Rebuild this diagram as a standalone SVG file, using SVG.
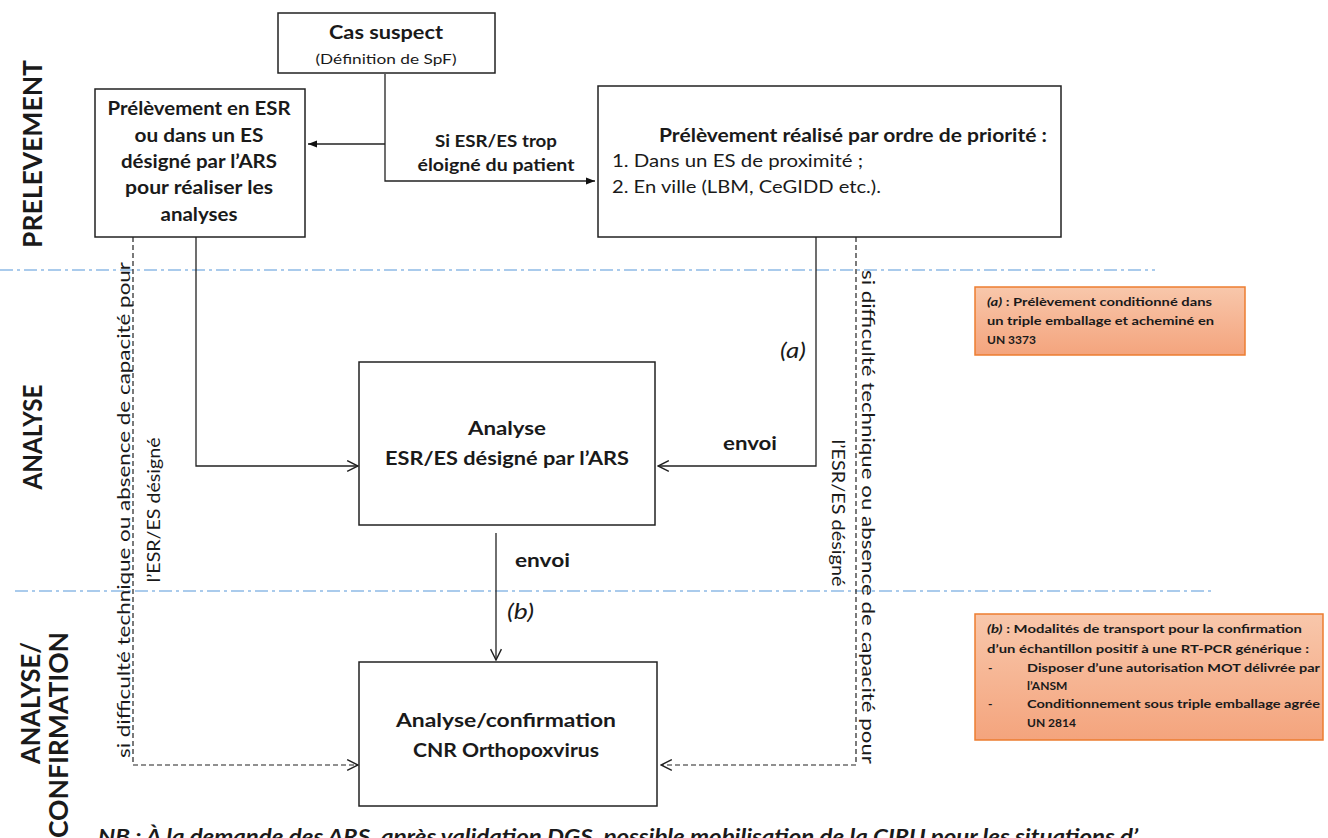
<svg xmlns="http://www.w3.org/2000/svg" width="1328" height="838" viewBox="0 0 1328 838">
<style>
text{font-family:Lato,"Liberation Sans",Arial,sans-serif;fill:#1a1a1a}
.b{font-weight:bold}
.i{font-style:italic}
.box{fill:#fff;stroke:#222;stroke-width:1.5}
.note{fill:url(#og);stroke:#ed7d31;stroke-width:1.5}
.sep{fill:none;stroke:#8fbbe6;stroke-width:1.6;stroke-dasharray:13 4 3 4}
.c{fill:none;stroke:#222;stroke-width:1.3}
.d{fill:none;stroke:#222;stroke-width:1.2;stroke-dasharray:5 3}
.lab{font-size:26px;font-weight:bold}
.m{font-size:19px;font-weight:bold;text-anchor:middle}
.vt{font-size:18px;text-anchor:middle}
.nt{font-size:12px;font-weight:bold}
</style>
<defs>
<linearGradient id="og" x1="0" y1="0" x2="0" y2="1">
<stop offset="0" stop-color="#f8c7ab"/>
<stop offset="1" stop-color="#f4a47d"/>
</linearGradient>
<marker id="af" viewBox="0 0 10 10" refX="10" refY="5" markerWidth="9" markerHeight="9" markerUnits="userSpaceOnUse" orient="auto">
<path d="M0,1 L10,5 L0,9 z" fill="#111"/>
</marker>
<marker id="ao" viewBox="0 0 12 12" refX="11" refY="6" markerWidth="13" markerHeight="13" markerUnits="userSpaceOnUse" orient="auto">
<path d="M1,1 L11,6 L1,11" fill="none" stroke="#222" stroke-width="1.3"/>
</marker>
</defs>
<rect width="1328" height="838" fill="#fff"/>

<g id="separators">
<line class="sep" x1="0" y1="270" x2="1155" y2="270"/>
<line class="sep" x1="15" y1="591" x2="1215" y2="591"/>
</g>

<g id="phase-labels">
<text class="lab" transform="translate(42,154) rotate(-90)" text-anchor="middle" textLength="188" lengthAdjust="spacingAndGlyphs">PRELEVEMENT</text>
<text class="lab" transform="translate(42,437) rotate(-90)" text-anchor="middle" textLength="105" lengthAdjust="spacingAndGlyphs">ANALYSE</text>
<text class="lab" transform="translate(40,703) rotate(-90)" text-anchor="middle" textLength="122" lengthAdjust="spacingAndGlyphs">ANALYSE/</text>
<text class="lab" transform="translate(68,632) rotate(-90)" text-anchor="end" textLength="206" lengthAdjust="spacingAndGlyphs">CONFIRMATION</text>
</g>

<g id="connectors">
<path class="c" d="M385,74 V181 H595" marker-end="url(#af)"/>
<path class="c" d="M385,144 H308" marker-end="url(#af)"/>
<path class="c" d="M196,237 V466 H358" marker-end="url(#ao)"/>
<path class="c" d="M816,237 V466 H658" marker-end="url(#ao)"/>
<path class="d" d="M133,237 V765 H358" marker-end="url(#ao)"/>
<path class="d" d="M856,237 V765 H661" marker-end="url(#ao)"/>
<path class="c" d="M496,533 V660" marker-end="url(#ao)"/>
<text class="b" x="496" y="147" font-size="17" text-anchor="middle" textLength="122" lengthAdjust="spacingAndGlyphs">Si ESR/ES trop</text>
<text class="b" x="496" y="171" font-size="17" text-anchor="middle" textLength="157" lengthAdjust="spacingAndGlyphs">éloigné du patient</text>
<text class="i" x="780" y="358" font-size="21" textLength="26" lengthAdjust="spacingAndGlyphs">(a)</text>
<text class="b" x="723" y="450" font-size="18" textLength="54" lengthAdjust="spacingAndGlyphs">envoi</text>
<text class="b" x="515" y="567" font-size="18" textLength="55" lengthAdjust="spacingAndGlyphs">envoi</text>
<text class="i" x="507" y="619" font-size="21" textLength="27" lengthAdjust="spacingAndGlyphs">(b)</text>
<text class="vt" transform="translate(130,510) rotate(-90)" textLength="496" lengthAdjust="spacingAndGlyphs">si difficulté technique ou absence de capacité pour</text>
<text class="vt" transform="translate(160,510) rotate(-90)" textLength="145" lengthAdjust="spacingAndGlyphs">l’ESR/ES désigné</text>
<text class="vt" transform="translate(862,517) rotate(90)" textLength="494" lengthAdjust="spacingAndGlyphs">si difficulté technique ou absence de capacité pour</text>
<text class="vt" transform="translate(832,513) rotate(90)" textLength="147" lengthAdjust="spacingAndGlyphs">l’ESR/ES désigné</text>
</g>

<g id="cas-suspect">
<rect class="box" x="278" y="13" width="217" height="60"/>
<text class="b" x="386" y="39" font-size="18" text-anchor="middle" textLength="114" lengthAdjust="spacingAndGlyphs">Cas suspect</text>
<text x="386" y="64" font-size="14" text-anchor="middle" textLength="141" lengthAdjust="spacingAndGlyphs">(Définition de SpF)</text>
</g>

<g id="prelevement-esr">
<rect class="box" x="95" y="89" width="210" height="148"/>
<text class="m" x="199" y="115" textLength="183" lengthAdjust="spacingAndGlyphs">Prélèvement en ESR</text>
<text class="m" x="199" y="142" textLength="129" lengthAdjust="spacingAndGlyphs">ou dans un ES</text>
<text class="m" x="199" y="168" textLength="156" lengthAdjust="spacingAndGlyphs">désigné par l’ARS</text>
<text class="m" x="199" y="194" textLength="148" lengthAdjust="spacingAndGlyphs">pour réaliser les</text>
<text class="m" x="199" y="221" textLength="77" lengthAdjust="spacingAndGlyphs">analyses</text>
</g>

<g id="prelevement-priorite">
<rect class="box" x="598" y="86" width="463" height="151"/>
<text class="b" x="659" y="142" font-size="18" textLength="388" lengthAdjust="spacingAndGlyphs">Prélèvement réalisé par ordre de priorité :</text>
<text x="612" y="167" font-size="17" textLength="251" lengthAdjust="spacingAndGlyphs">1. Dans un ES de proximité ;</text>
<text x="612" y="193" font-size="17" textLength="269" lengthAdjust="spacingAndGlyphs">2. En ville (LBM, CeGIDD etc.).</text>
</g>

<g id="analyse-esr">
<rect class="box" x="359" y="362" width="296" height="163"/>
<text class="m" x="507" y="435" textLength="78" lengthAdjust="spacingAndGlyphs">Analyse</text>
<text class="m" x="507" y="465" textLength="244" lengthAdjust="spacingAndGlyphs">ESR/ES désigné par l’ARS</text>
</g>

<g id="analyse-cnr">
<rect class="box" x="359" y="662" width="298" height="144"/>
<text class="m" x="506" y="727" textLength="220" lengthAdjust="spacingAndGlyphs">Analyse/confirmation</text>
<text class="m" x="506" y="757" textLength="186" lengthAdjust="spacingAndGlyphs">CNR Orthopoxvirus</text>
</g>

<g id="note-a">
<rect class="note" x="975" y="287" width="270" height="68"/>
<text class="nt" x="987" y="306" textLength="225" lengthAdjust="spacingAndGlyphs"><tspan class="i">(a)</tspan> : Prélèvement conditionné dans</text>
<text class="nt" x="987" y="325" textLength="227" lengthAdjust="spacingAndGlyphs">un triple emballage et acheminé en</text>
<text class="nt" x="987" y="344">UN 3373</text>
</g>

<g id="note-b">
<rect class="note" x="975" y="614" width="348" height="126"/>
<text class="nt" x="987" y="633" textLength="315" lengthAdjust="spacingAndGlyphs"><tspan class="i">(b)</tspan> : Modalités de transport pour la confirmation</text>
<text class="nt" x="987" y="653" textLength="322" lengthAdjust="spacingAndGlyphs">d’un échantillon positif à une RT-PCR générique :</text>
<text class="nt" x="988" y="672">-</text>
<text class="nt" x="1027" y="672" textLength="293" lengthAdjust="spacingAndGlyphs">Disposer d’une autorisation MOT délivrée par</text>
<text class="nt" x="1027" y="690">l’ANSM</text>
<text class="nt" x="988" y="708">-</text>
<text class="nt" x="1027" y="708" textLength="293" lengthAdjust="spacingAndGlyphs">Conditionnement sous triple emballage agrée</text>
<text class="nt" x="1027" y="727">UN 2814</text>
</g>

<g id="footnote">
<text class="b i" x="98" y="844" font-size="20" textLength="1040" lengthAdjust="spacingAndGlyphs">NB : À la demande des ARS, après validation DGS, possible mobilisation de la CIRU pour les situations d’</text>
</g>
</svg>
